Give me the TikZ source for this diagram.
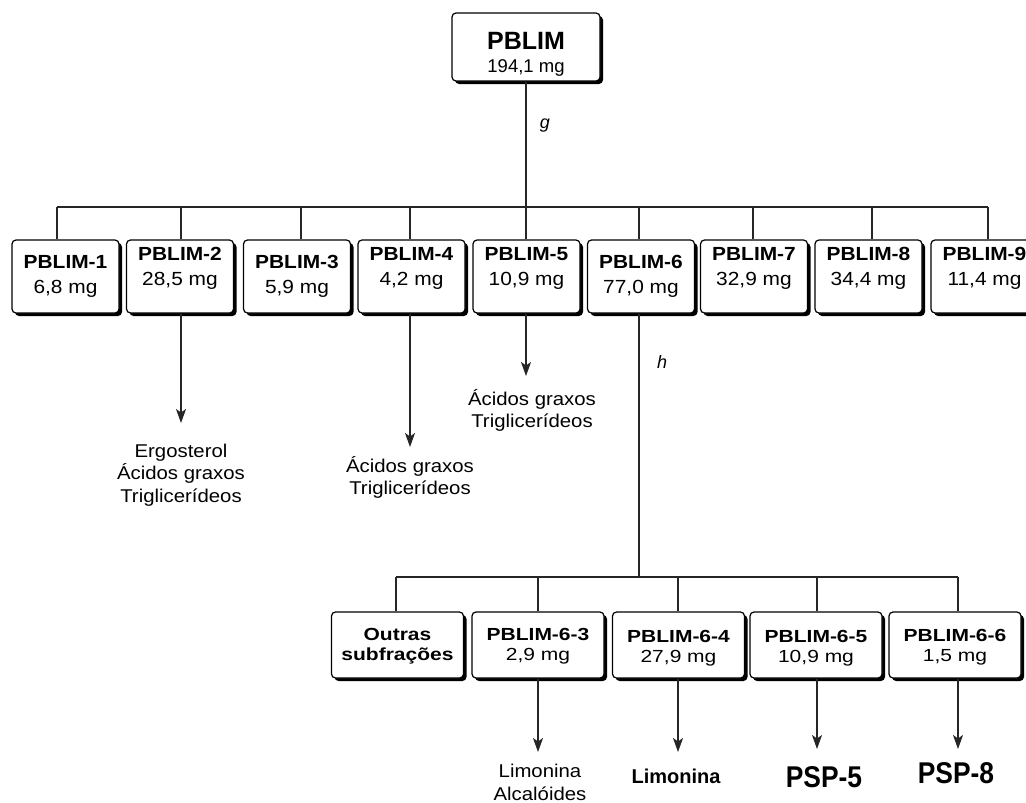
\documentclass[tikz,border=0pt]{standalone}
\usepackage{fontspec}
\setmainfont{Liberation Sans}
\newfontfamily\rowafont[FakeStretch=1.1]{Liberation Sans}
\newfontfamily\rowbfont[FakeStretch=1.2]{Liberation Sans}
\newfontfamily\pspfont[FakeStretch=0.88]{Liberation Sans}
\usetikzlibrary{arrows.meta,shadows}
\tikzset{
	fbox/.style={draw=black,line width=1.2pt,rounded corners=4pt,fill=white,inner sep=0pt,
		drop shadow={shadow xshift=3pt,shadow yshift=-3pt,fill=black,opacity=1}},
	topbox/.style={fbox,minimum width=148,minimum height=68},
	rowa/.style={fbox,minimum width=107,minimum height=73},
	rowb/.style={fbox,minimum width=132,minimum height=66},
	rowa text/.style={font=\rowafont\fontsize{19}{25}\selectfont,align=center,anchor=base,inner sep=0pt},
	rowb text/.style={font=\rowbfont\fontsize{17.5}{20}\selectfont,align=center,anchor=base,inner sep=0pt},
	link/.style={line width=1.1pt,draw=black!85},
	yield/.style={link,-{Stealth[length=14pt,width=10pt,inset=3.5pt]}},
	step label/.style={font=\itshape\fontsize{18}{18}\selectfont,anchor=base,inner sep=0pt},
	res/.style={font=\rowafont\fontsize{18.5}{22.5}\selectfont,align=center,anchor=base,inner sep=0pt},
	res bold/.style={font=\bfseries\fontsize{20}{20}\selectfont,anchor=base,inner sep=0pt},
	psp/.style={font=\pspfont\bfseries\fontsize{30}{30}\selectfont,anchor=base,inner sep=0pt}
}
% box with two lines of text: name, style, centre, last baseline, label, mass
\newcommand{\fracbox}[6]{%
	\node[#2] (#1) at #3 {};
	\node[#2 text] (#1-txt) at #4 {{\bfseries #5}\\#6};
}

\begin{document}
\begin{tikzpicture}[x=1pt,y=-1pt]
	\useasboundingbox (0,0) rectangle (1026,803);
	
	% -------------------------------------------------
	% 1. Crude fraction
	% -------------------------------------------------
	\node[topbox] (pblim) at (526,47) {};
	\node[anchor=base,inner sep=0pt,font=\bfseries\fontsize{25}{25}\selectfont] (pblim-name) at (526,49) {PBLIM};
	\node[anchor=base,inner sep=0pt,font=\fontsize{18.5}{18.5}\selectfont] (pblim-mass) at (526,72) {194,1 mg};
	
	% -------------------------------------------------
	% 2. First column fractions
	% -------------------------------------------------
	\fracbox{p1}{rowa}{(65.5,276.5)}{(65.5,293)}{PBLIM-1}{6,8 mg}
	\fracbox{p2}{rowa}{(180,276.5)}{(180,285)}{PBLIM-2}{28,5 mg}
	\fracbox{p3}{rowa}{(297,276.5)}{(297,293)}{PBLIM-3}{5,9 mg}
	\fracbox{p4}{rowa}{(411.5,276.5)}{(411.5,285)}{PBLIM-4}{4,2 mg}
	\fracbox{p5}{rowa}{(526.5,276.5)}{(526.5,285)}{PBLIM-5}{10,9 mg}
	\fracbox{p6}{rowa}{(641,276.5)}{(641,293)}{PBLIM-6}{77,0 mg}
	\fracbox{p7}{rowa}{(754,276.5)}{(754,285)}{PBLIM-7}{32,9 mg}
	\fracbox{p8}{rowa}{(868.5,276.5)}{(868.5,285)}{PBLIM-8}{34,4 mg}
	\fracbox{p9}{rowa}{(984.5,276.5)}{(984.5,285)}{PBLIM-9}{11,4 mg}
	
	% bar and stems
	\coordinate (bar1) at (57,207);
	\coordinate (bar9) at (988,207);
	\draw[link] (pblim.south -| pblim) -- (pblim |- bar1);
	\draw[link] (bar1) -- (bar9);
	\draw[link] (bar1) -- (bar1 |- p1.north);
	\draw[link] (bar1 -| 181,0) -- (p2.north -| 181,0);
	\draw[link] (bar1 -| 301,0) -- (p3.north -| 301,0);
	\draw[link] (bar1 -| 410,0) -- (p4.north -| 410,0);
	\draw[link] (bar1 -| 526,0) -- (p5.north -| 526,0);
	\draw[link] (bar1 -| 639,0) -- (p6.north -| 639,0);
	\draw[link] (bar1 -| 753,0) -- (p7.north -| 753,0);
	\draw[link] (bar1 -| 872,0) -- (p8.north -| 872,0);
	\draw[link] (bar9) -- (bar9 |- p9.north);
	\node[step label] (g) at (545,128) {g};
	
	% results of the first column
	\coordinate (p2end) at (181,423);
	\coordinate (p4end) at (410,447);
	\coordinate (p5end) at (526,376);
	\draw[yield] (p2.south -| p2end) -- (p2end);
	\draw[yield] (p4.south -| p4end) -- (p4end);
	\draw[yield] (p5.south -| p5end) -- (p5end);
	\node[res] (p2res) at (181,502) {Ergosterol\\Ácidos graxos\\Triglicerídeos};
	\node[res] (p4res) at (410,494.5) {Ácidos graxos\\Triglicerídeos};
	\node[res] (p5res) at (532,427.5) {Ácidos graxos\\Triglicerídeos};
	
	% -------------------------------------------------
	% 3. Subfractions of PBLIM-6
	% -------------------------------------------------
	\fracbox{q1}{rowb}{(397.5,645)}{(397.5,660)}{Outras}{\textbf{subfrações}}
	\fracbox{q3}{rowb}{(538,645)}{(538,660)}{PBLIM-6-3}{2,9 mg}
	\fracbox{q4}{rowb}{(678.5,645)}{(678.5,662)}{PBLIM-6-4}{27,9 mg}
	\fracbox{q5}{rowb}{(816,645)}{(816,662)}{PBLIM-6-5}{10,9 mg}
	\fracbox{q6}{rowb}{(955,645)}{(955,661)}{PBLIM-6-6}{1,5 mg}
	
	\coordinate (bar2a) at (396,577);
	\coordinate (bar2b) at (958,577);
	\draw[link] (p6.south -| 639,0) -- (bar2a -| 639,0);
	\draw[link] (bar2a) -- (bar2b);
	\draw[link] (bar2a) -- (bar2a |- q1.north);
	\draw[link] (bar2a -| 538,0) -- (q3.north -| 538,0);
	\draw[link] (bar2a -| 678,0) -- (q4.north -| 678,0);
	\draw[link] (bar2a -| 817,0) -- (q5.north -| 817,0);
	\draw[link] (bar2b) -- (bar2b |- q6.north);
	\node[step label] (h) at (662,368) {h};
	
	% results of the subfractions
	\coordinate (q3end) at (538,752);
	\coordinate (q4end) at (678,752);
	\coordinate (q5end) at (817,749);
	\coordinate (q6end) at (958,749);
	\draw[yield] (q3.south -| q3end) -- (q3end);
	\draw[yield] (q4.south -| q4end) -- (q4end);
	\draw[yield] (q5.south -| q5end) -- (q5end);
	\draw[yield] (q6.south -| q6end) -- (q6end);
	\node[res] (q3res) at (540,800) {Limonina\\Alcalóides};
	\node[res bold] (q4res) at (676,783) {Limonina};
	\node[psp] (q5res) at (824,787) {PSP-5};
	\node[psp] (q6res) at (956,783) {PSP-8};
	
\end{tikzpicture}
\end{document}
